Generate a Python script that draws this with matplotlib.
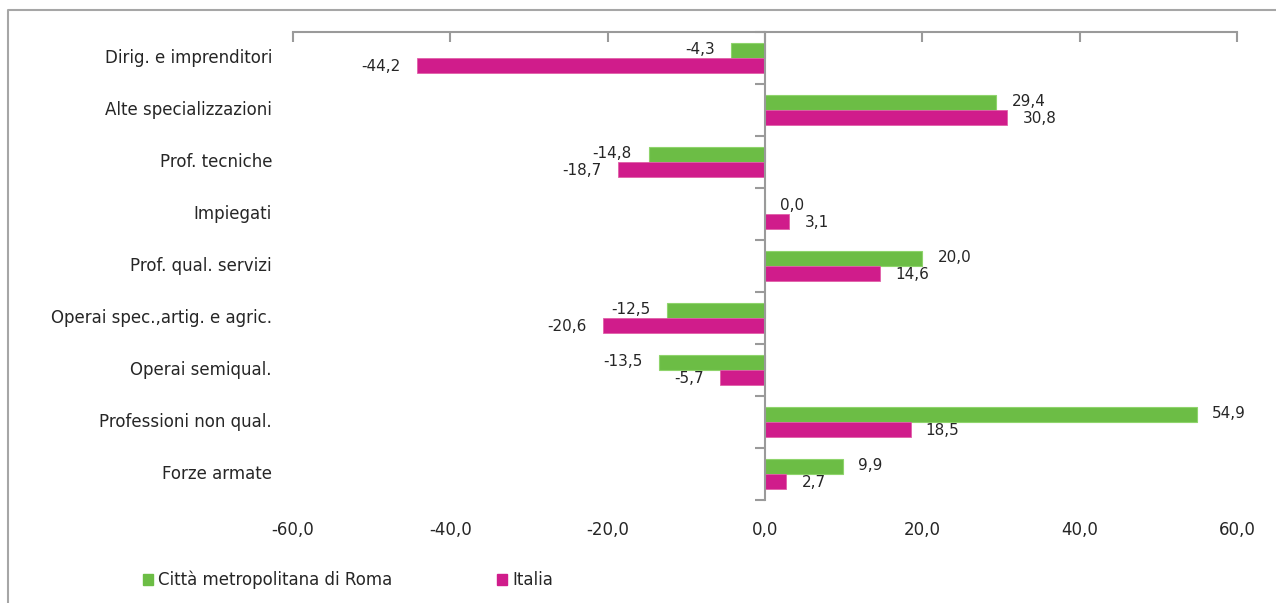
import numpy as np
import matplotlib.pyplot as plt
from matplotlib.lines import Line2D
from matplotlib.transforms import blended_transform_factory

plt.rcParams['font.family'] = ['DejaVu Sans']

# Data
categories = ['Dirig. e imprenditori', 'Alte specializzazioni', 'Prof. tecniche',
              'Impiegati', 'Prof. qual. servizi', 'Operai spec.,artig. e agric.',
              'Operai semiqual.', 'Professioni non qual.', 'Forze armate']
roma = [-4.3, 29.4, -14.8, 0.0, 20.0, -12.5, -13.5, 54.9, 9.9]
italia = [-44.2, 30.8, -18.7, 3.1, 14.6, -20.6, -5.7, 18.5, 2.7]
series_names = ['Città metropolitana di Roma', 'Italia']
xticks = [-60, -40, -20, 0, 20, 40, 60]

green = '#6cbd45'
magenta = '#d01c8b'
axis_grey = '#9a9a9a'
text_col = '#262626'

fig = plt.figure(figsize=(12.76, 6.03), dpi=100)
ax = fig.add_axes([293 / 1276, 1 - 500 / 603, 944 / 1276, 468 / 603])

y = np.arange(len(categories))
h = 0.29
ax.barh(y - h / 2, roma, height=h, color=green, edgecolor='#8fd46c', linewidth=0.8)
ax.barh(y + h / 2, italia, height=h, color=magenta, edgecolor='#e060a8', linewidth=0.6)

ax.set_xlim(-60, 60)
ax.set_ylim(len(categories) - 0.5, -0.5)

# value labels
fs = 12
vfs = 11
for vals, off, dy in ((roma, -h / 2, 1), (italia, h / 2, -1)):
    for yi, v in zip(y, vals):
        lab = f'{v:.1f}'.replace('.', ',')
        if v < 0:
            ax.annotate(lab, (v, yi + off), xytext=(-12, dy), textcoords='offset points',
                        ha='right', va='center', fontsize=vfs, color=text_col)
        else:
            ax.annotate(lab, (v, yi + off), xytext=(11, dy), textcoords='offset points',
                        ha='left', va='center', fontsize=vfs, color=text_col)

# category labels on the left
trans = blended_transform_factory(ax.transAxes, ax.transData)
for yi, c in zip(y, categories):
    ax.text(-21 / 944, yi, c, transform=trans, ha='right', va='center',
            fontsize=fs, color=text_col)

# spines / ticks
for s in ['right', 'bottom']:
    ax.spines[s].set_visible(False)
ax.spines['top'].set_color(axis_grey)
ax.spines['top'].set_linewidth(1.5)
ax.spines['left'].set_position(('data', 0))
ax.spines['left'].set_color(axis_grey)
ax.spines['left'].set_linewidth(1.5)

ax.set_xticks(xticks)
ax.set_xticklabels([f'{t:.1f}'.replace('.', ',') for t in xticks])
ax.tick_params(axis='x', top=True, bottom=False, labeltop=False, labelbottom=True,
               direction='in', length=7, width=1.5, color=axis_grey,
               labelsize=fs, labelcolor=text_col, pad=15)
ax.set_yticks([])
ax.set_yticks(np.arange(len(categories) + 1) - 0.5, minor=True)
ax.tick_params(axis='y', which='minor', left=True, direction='out', length=7,
               width=1.5, color=axis_grey, labelleft=False)

# legend
handles = [plt.Rectangle((0, 0), 1, 1, color=green), plt.Rectangle((0, 0), 1, 1, color=magenta)]
fig.legend(handles, series_names, loc='center left', bbox_to_anchor=(128 / 1276, 1 - 580 / 603),
           ncol=2, frameon=False, fontsize=fs, handlelength=0.6, handleheight=0.6,
           handletextpad=0.3, columnspacing=6.3, labelcolor=text_col)

# outer chart frame
fig.add_artist(Line2D([8 / 1276, 8 / 1276, 1.0], [0, 1 - 10 / 603, 1 - 10 / 603],
                      transform=fig.transFigure, color='#a6a6a6', linewidth=1.5))

fig.savefig('out.png', dpi=100)
